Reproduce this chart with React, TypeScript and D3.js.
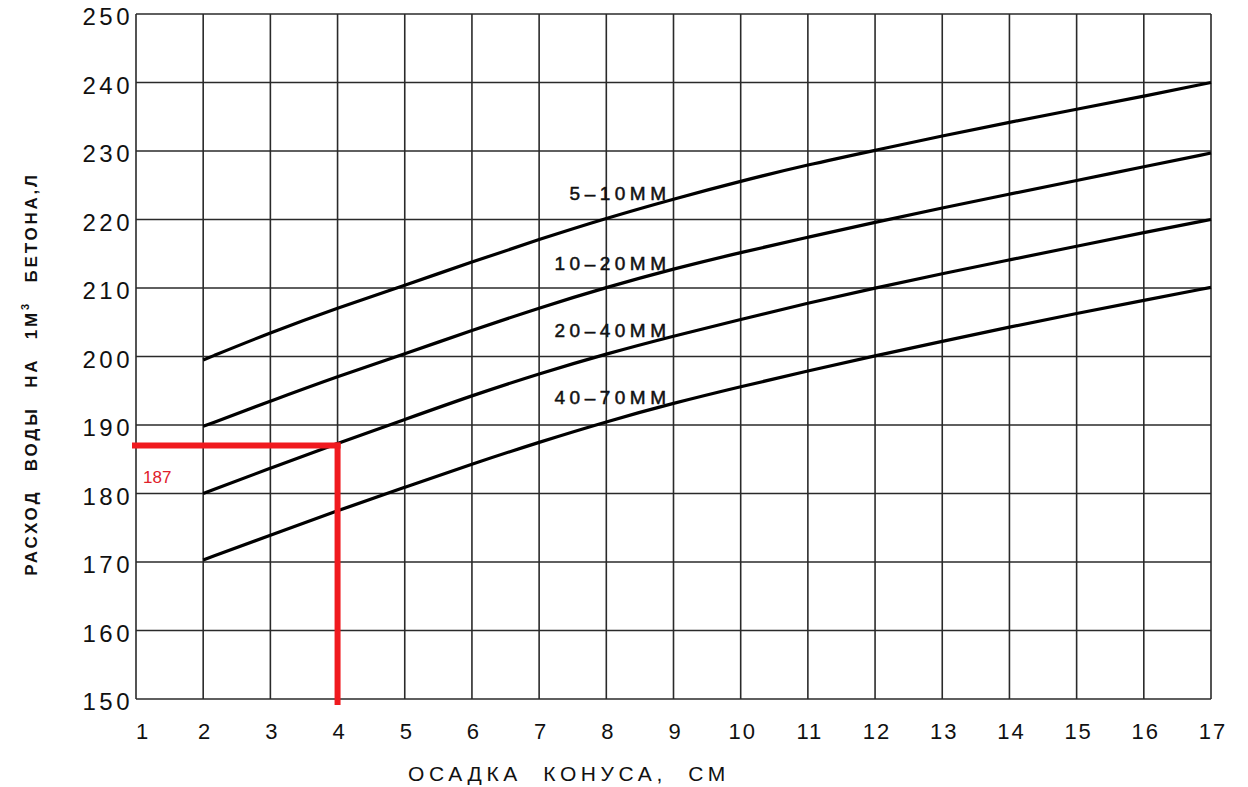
import React from "react"
import * as d3 from "d3"

// осадка конуса, см
const slump = [2, 3, 4, 5, 6, 7, 8, 9, 10, 11, 12, 13, 14, 15, 16, 17]

// расход воды, л — по крупности заполнителя
const water5to10 = [199.5, 203.5, 207.1, 210.4, 213.8, 217.1, 220.2, 223, 225.6, 228, 230.1, 232.2, 234.2, 236.1, 238, 240]
const water10to20 = [189.8, 193.5, 197.1, 200.4, 203.8, 207.1, 210.1, 212.8, 215.2, 217.4, 219.6, 221.7, 223.7, 225.7, 227.7, 229.7]
const water20to40 = [180, 183.7, 187.3, 190.8, 194.3, 197.5, 200.4, 203, 205.4, 207.8, 210, 212.1, 214.1, 216.1, 218.1, 220]
const water40to70 = [170.3, 173.9, 177.5, 180.9, 184.3, 187.5, 190.5, 193.2, 195.6, 197.9, 200.1, 202.2, 204.3, 206.3, 208.2, 210.1]

const seriesNames = ["5–10ММ", "10–20ММ", "20–40ММ", "40–70ММ"]
const seriesValues = [water5to10, water10to20, water20to40, water40to70]

const xTicks = [1, 2, 3, 4, 5, 6, 7, 8, 9, 10, 11, 12, 13, 14, 15, 16, 17]
const yTicks = [150, 160, 170, 180, 190, 200, 210, 220, 230, 240, 250]

// пример чтения графика
const exampleSlump = 4
const exampleWater = 187

const labelAt = 9

export default function App() {
    const width = 1248
    const height = 787
    const font = "'Liberation Sans', Arial, sans-serif"

    const x = d3.scaleLinear().domain([1, 17]).range([136, 1211])
    const y = d3.scaleLinear().domain([150, 250]).range([699, 14])

    const line = d3
        .line<[number, number]>()
        .x(d => x(d[0]))
        .y(d => y(d[1]))
        .curve(d3.curveBasis)

    const gridColor = "#2a2a2a"
    const red = "#f01a1f"

    return (
        <svg
            width={width}
            height={height}
            style={{ position: "absolute", left: 0, top: 0, background: "#fff" }}
        >
            {/* сетка */}
            {xTicks.map(t => (
                <line
                    key={"gx" + t}
                    x1={x(t)}
                    x2={x(t)}
                    y1={y(250)}
                    y2={y(150)}
                    stroke={gridColor}
                    strokeWidth={1.6}
                />
            ))}
            {yTicks.map(t => (
                <line
                    key={"gy" + t}
                    x1={x(1)}
                    x2={x(17)}
                    y1={y(t)}
                    y2={y(t)}
                    stroke={gridColor}
                    strokeWidth={1.6}
                />
            ))}

            {/* подписи осей */}
            {yTicks.map(t => (
                <text
                    key={"ly" + t}
                    x={x(1) - 3}
                    y={y(t) + 11}
                    textAnchor="end"
                    fontFamily={font}
                    fontSize={24}
                    letterSpacing={3.5}
                    fill="#111"
                >
                    {t}
                </text>
            ))}
            {xTicks.map(t => (
                <text
                    key={"lx" + t}
                    x={x(t) + (t === 1 ? 7 : 2)}
                    y={739}
                    textAnchor="middle"
                    fontFamily={font}
                    fontSize={22}
                    letterSpacing={2}
                    fill="#111"
                >
                    {t}
                </text>
            ))}

            <text
                x={569}
                y={781}
                textAnchor="middle"
                fontFamily={font}
                fontSize={21}
                letterSpacing={4.6}
                wordSpacing={11}
                fill="#111"
            >
                ОСАДКА КОНУСА, СМ
            </text>
            <text
                transform="translate(37,374) rotate(-90)"
                textAnchor="middle"
                fontFamily={font}
                fontSize={17}
                fontWeight="bold"
                letterSpacing={2.8}
                wordSpacing={11}
                fill="#111"
            >
                РАСХОД ВОДЫ НА 1М
                <tspan fontSize={11} dy={-8}>3</tspan>
                <tspan dy={8}> БЕТОНА,Л</tspan>
            </text>

            {/* кривые */}
            {seriesValues.map((vals, i) => (
                <path
                    key={"c" + i}
                    d={line(slump.map((s, j) => [s, vals[j]] as [number, number])) || ""}
                    fill="none"
                    stroke="#000"
                    strokeWidth={3.2}
                />
            ))}
            {seriesValues.map((vals, i) => (
                <text
                    key={"n" + i}
                    x={x(labelAt) - 3}
                    y={y(vals[slump.indexOf(labelAt)]) + 1}
                    textAnchor="end"
                    fontFamily={font}
                    fontSize={19}
                    stroke="#111"
                    strokeWidth={0.5}
                    letterSpacing={4.5}
                    fill="#111"
                >
                    {seriesNames[i]}
                </text>
            ))}

            {/* пример: 4 см -> 187 л */}
            <line
                x1={x(1) - 4}
                x2={x(exampleSlump) + 3}
                y1={y(exampleWater)}
                y2={y(exampleWater)}
                stroke={red}
                strokeWidth={6}
            />
            <line
                x1={x(exampleSlump)}
                x2={x(exampleSlump)}
                y1={y(exampleWater) - 3}
                y2={y(150) + 6}
                stroke={red}
                strokeWidth={6}
            />
            <text
                x={x(1) + 7}
                y={y(exampleWater) + 37}
                fontFamily={font}
                fontSize={17}
                fill="#e0202a"
            >
                {exampleWater}
            </text>
        </svg>
    )
}
